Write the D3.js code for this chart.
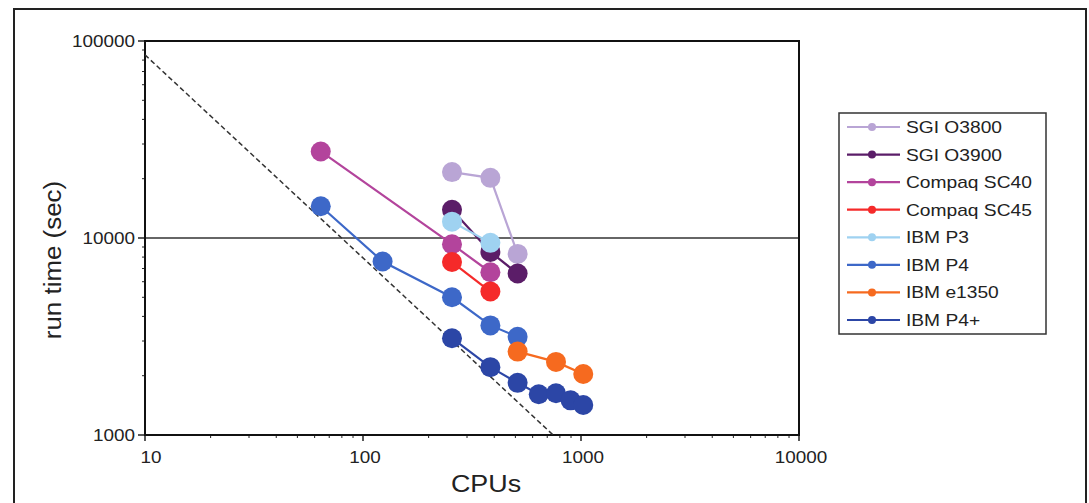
<!DOCTYPE html>
<html>
<head>
<meta charset="utf-8">
<script src="https://cdn.jsdelivr.net/npm/d3@7"></script>
<style>
  body { margin: 0; background: #fff; }
  text { font-family: "Liberation Sans", Arial, sans-serif; fill: #222; }
</style>
</head>
<body>
<div id="my_dataviz"></div>
<script>
// series, in legend order (later ones drawn on top)
var seriesNames = ["SGI O3800", "SGI O3900", "Compaq SC40", "Compaq SC45",
                   "IBM P3", "IBM P4", "IBM e1350", "IBM P4+"];
var seriesColors = ["#b9a5d5", "#5b1d68", "#b3449c", "#f52a2a",
                    "#9fd2f1", "#3d68c8", "#f66a1f", "#2c46a6"];

var sgiO3800Cpus = [256, 384, 512];
var sgiO3800Time = [21600, 20200, 8300];
var sgiO3900Cpus = [256, 384, 512];
var sgiO3900Time = [13900, 8500, 6600];
var compaqSC40Cpus = [64, 256, 384];
var compaqSC40Time = [27500, 9300, 6700];
var compaqSC45Cpus = [256, 384];
var compaqSC45Time = [7550, 5350];
var ibmP3Cpus = [256, 384];
var ibmP3Time = [12100, 9450];
var ibmP4Cpus = [64, 123, 256, 384, 512];
var ibmP4Time = [14500, 7600, 5000, 3600, 3150];
var ibmE1350Cpus = [512, 768, 1024];
var ibmE1350Time = [2650, 2350, 2040];
var ibmP4PlusCpus = [256, 384, 512, 640, 768, 896, 1024];
var ibmP4PlusTime = [3100, 2210, 1840, 1610, 1630, 1500, 1420];

// ideal scaling reference (dashed)
var idealCpus = [10, 745];
var idealTime = [85000, 1000];

var xTicks = [10, 100, 1000, 10000];
var yTicks = [1000, 10000, 100000];

var allCpus = [sgiO3800Cpus, sgiO3900Cpus, compaqSC40Cpus, compaqSC45Cpus,
               ibmP3Cpus, ibmP4Cpus, ibmE1350Cpus, ibmP4PlusCpus];
var allTime = [sgiO3800Time, sgiO3900Time, compaqSC40Time, compaqSC45Time,
               ibmP3Time, ibmP4Time, ibmE1350Time, ibmP4PlusTime];

var W = 1089, H = 503;
var plot = { left: 145, right: 799, top: 41, bottom: 435 };

var svg = d3.select("#my_dataviz").append("svg")
    .attr("width", W).attr("height", H);

// outer frame
svg.append("rect")
    .attr("x", 14).attr("y", 9)
    .attr("width", 1072).attr("height", 520)
    .attr("fill", "none").attr("stroke", "#222").attr("stroke-width", 2);

var x = d3.scaleLog().domain([10, 10000]).range([plot.left, plot.right]);
var y = d3.scaleLog().domain([1000, 100000]).range([plot.bottom, plot.top]);

// helper for the wide-looking text of the original
function wideText(g, tx, ty, str, size, sx, anchor, rot) {
    return g.append("text")
        .attr("transform", "translate(" + tx + "," + ty + ")" + (rot ? " rotate(" + rot + ")" : "") + " scale(" + sx + ",1)")
        .attr("text-anchor", anchor)
        .style("font-size", size + "px")
        .text(str);
}

// minor ticks
var yMinor = [];
var xMinor = [];
[1000, 10000].forEach(function(b) { for (var k = 2; k < 10; k++) yMinor.push(b * k); });
[10, 100, 1000].forEach(function(b) { for (var k = 2; k < 10; k++) xMinor.push(b * k); });

svg.selectAll("yMinor").data(yMinor).enter().append("line")
    .attr("x1", plot.left - 3).attr("x2", plot.left)
    .attr("y1", function(d) { return y(d); }).attr("y2", function(d) { return y(d); })
    .attr("stroke", "#222").attr("stroke-width", 1);
svg.selectAll("xMinor").data(xMinor).enter().append("line")
    .attr("x1", function(d) { return x(d); }).attr("x2", function(d) { return x(d); })
    .attr("y1", plot.bottom).attr("y2", plot.bottom + 3)
    .attr("stroke", "#222").attr("stroke-width", 1);

// major ticks
svg.selectAll("yMajor").data(yTicks).enter().append("line")
    .attr("x1", plot.left - 7).attr("x2", plot.left)
    .attr("y1", function(d) { return y(d); }).attr("y2", function(d) { return y(d); })
    .attr("stroke", "#222").attr("stroke-width", 1.5);
svg.selectAll("xMajor").data(xTicks).enter().append("line")
    .attr("x1", function(d) { return x(d); }).attr("x2", function(d) { return x(d); })
    .attr("y1", plot.bottom).attr("y2", plot.bottom + 6)
    .attr("stroke", "#222").attr("stroke-width", 1.5);

// tick labels
yTicks.forEach(function(t) { wideText(svg, plot.left - 10, y(t) + 6, String(t), 16, 1.18, "end"); });
xTicks.forEach(function(t) { wideText(svg, x(t) + (t === 10 ? 6 : 2), 463, String(t), 16, 1.18, "middle"); });

// 10000 reference line
svg.append("line")
    .attr("x1", plot.left).attr("x2", plot.right)
    .attr("y1", y(10000)).attr("y2", y(10000))
    .attr("stroke", "#333").attr("stroke-width", 1.3);

// plot frame
svg.append("rect")
    .attr("x", plot.left).attr("y", plot.top)
    .attr("width", plot.right - plot.left).attr("height", plot.bottom - plot.top)
    .attr("fill", "none").attr("stroke", "#111").attr("stroke-width", 2);

// axis titles
wideText(svg, 486, 492, "CPUs", 24, 1.12, "middle");
wideText(svg, 61, 260, "run time (sec)", 24, 1.08, "middle", -90);

var clip = svg.append("clipPath").attr("id", "clip").append("rect")
    .attr("x", plot.left).attr("y", plot.top)
    .attr("width", plot.right - plot.left).attr("height", plot.bottom - plot.top);

// ideal dashed line
var line = d3.line()
    .x(function(d) { return x(d[0]); })
    .y(function(d) { return y(d[1]); });

svg.append("path")
    .attr("clip-path", "url(#clip)")
    .attr("d", line(d3.zip(idealCpus, idealTime)))
    .attr("fill", "none").attr("stroke", "#333")
    .attr("stroke-width", 1.5).attr("stroke-dasharray", "5,3");

// series
seriesNames.forEach(function(name, i) {
    var pts = d3.zip(allCpus[i], allTime[i]);
    var g = svg.append("g");
    g.append("path")
        .attr("d", line(pts))
        .attr("fill", "none")
        .attr("stroke", seriesColors[i])
        .attr("stroke-width", 2.2);
    g.selectAll("circle").data(pts).enter().append("circle")
        .attr("cx", function(d) { return x(d[0]); })
        .attr("cy", function(d) { return y(d[1]); })
        .attr("r", 10)
        .attr("fill", seriesColors[i]);
});

// legend
var leg = svg.append("g");
leg.append("rect")
    .attr("x", 839).attr("y", 113).attr("width", 207).attr("height", 221)
    .attr("fill", "#fff").attr("stroke", "#333").attr("stroke-width", 1.5);

var rowY = d3.scaleLinear().domain([0, 7]).range([127, 320]);
seriesNames.forEach(function(name, i) {
    var yy = rowY(i);
    leg.append("line")
        .attr("x1", 847).attr("x2", 900).attr("y1", yy).attr("y2", yy)
        .attr("stroke", seriesColors[i]).attr("stroke-width", 2.2);
    leg.append("circle")
        .attr("cx", 872).attr("cy", yy).attr("r", 4)
        .attr("fill", seriesColors[i]);
    wideText(leg, 906, yy + 6, name, 16, 1.2, "start");
});
</script>
</body>
</html>
